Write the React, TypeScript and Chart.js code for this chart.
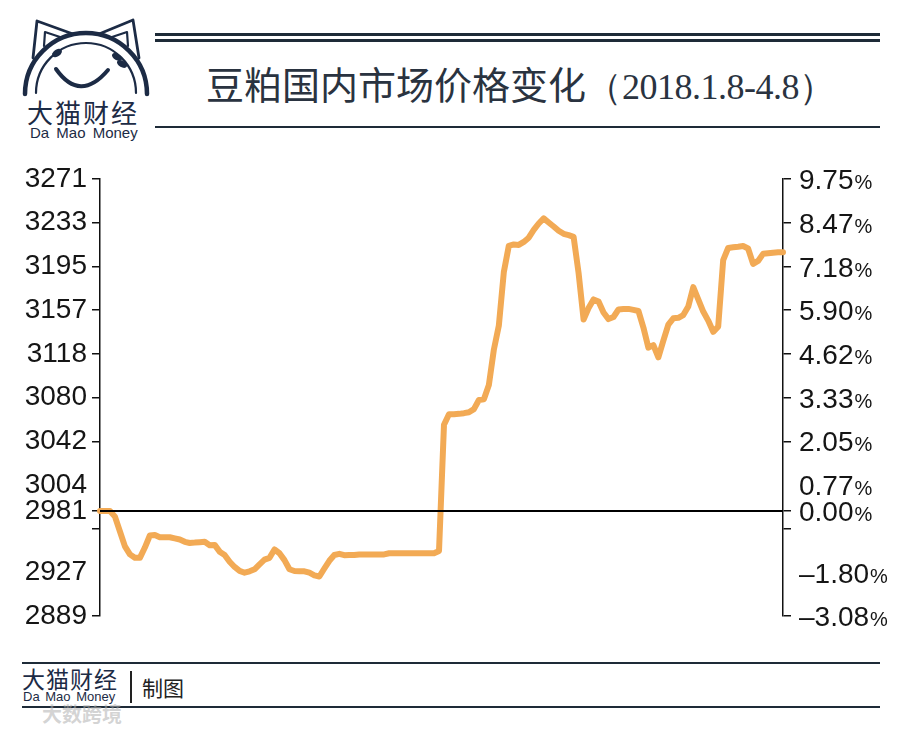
import React, { useEffect, useRef } from "react";
import { Chart, registerables } from "chart.js";

Chart.register(...registerables);

// 豆粕价格 (元/吨), 2018.1.8 - 4.8
const PRICES: number[] = [
  2981, 2981, 2981, 2976, 2963, 2950, 2943, 2940, 2940, 2949,
  2959.5, 2960, 2958, 2958, 2958, 2957, 2956, 2954, 2953, 2953.3,
  2953.7, 2954, 2951, 2951.3, 2945.4, 2942.5, 2936.6, 2932, 2928.6, 2927,
  2928.2, 2930, 2934.3, 2938.4, 2940, 2947.3, 2944, 2938, 2930, 2928.5,
  2928.2, 2928.2, 2927, 2924.7, 2923.7, 2930.7, 2937.4, 2942.5, 2943.5, 2942.3,
  2942.5, 2942.5, 2943, 2943, 2943, 2943, 2943, 2943, 2944, 2944,
  2944, 2944, 2944, 2944, 2944, 2944, 2944, 2944, 2946, 3056.3,
  3065.5, 3065.5, 3065.8, 3066.4, 3067.2, 3069.9, 3077.9, 3078.5, 3091, 3121.8,
  3142.9, 3189.6, 3212.6, 3213.8, 3213.4, 3216, 3219.7, 3226.5, 3232.1, 3236.6,
  3233, 3229.5, 3225.8, 3223.1, 3221.9, 3220.4, 3188.7, 3148.2, 3158.2, 3165.8,
  3164, 3154.4, 3148.6, 3150.4, 3157, 3157.4, 3157.5, 3156.6, 3155.7, 3141.2,
  3123.6, 3125.9, 3115.2, 3129.7, 3143.8, 3149.3, 3149.7, 3152.1, 3159.6, 3176.5,
  3165.8, 3155.2, 3147.3, 3137.5, 3142, 3200.1, 3210.8, 3211.3, 3211.8, 3212.4,
  3210.3, 3196.8, 3199.4, 3205.6, 3206.1, 3206.6, 3206.9, 3206.9,
];
const POINT_LABELS = PRICES.map((_, i) => String(i));
const BASE_PRICE = 2981;

const LEFT_MIN = 2889;
const LEFT_MAX = 3271;
const LEFT_TICKS = [3271, 3232.8, 3194.6, 3156.4, 3118.2, 3080, 3041.8, 3003.6, 2981, 2965.4, 2927.2, 2889];
const LEFT_LABELS = ["3271", "3233", "3195", "3157", "3118", "3080", "3042", "3004", "2981", "", "2927", "2889"];
const TICK_MARKS = [true, true, true, true, true, true, true, false, true, true, false, true];

const RIGHT_MIN = -3.08;
const RIGHT_MAX = 9.75;
const RIGHT_TICKS = [9.75, 8.47, 7.18, 5.9, 4.62, 3.33, 2.05, 0.77, 0, -0.52, -1.8, -3.08];
const RIGHT_LABELS = ["9.75", "8.47", "7.18", "5.90", "4.62", "3.33", "2.05", "0.77", "0.00", "", "–1.80", "–3.08"];

const NAVY = "#1c2b45";
const LINE_COLOR = "#F2AA55";

const rightLabelPlugin = {
  id: "rightLabels",
  afterDraw(chart: any) {
    const s = chart.scales.y1;
    const ctx = chart.ctx;
    ctx.save();
    ctx.textAlign = "left";
    ctx.textBaseline = "alphabetic";
    ctx.fillStyle = "#151515";
    RIGHT_TICKS.forEach((v, i) => {
      const lab = RIGHT_LABELS[i];
      if (!lab) return;
      const y = s.getPixelForValue(v) + 10;
      const x0 = s.left + 16;
      ctx.font = '28px "Liberation Sans"';
      ctx.fillText(lab, x0, y);
      const w = ctx.measureText(lab).width;
      ctx.font = '20px "Liberation Sans"';
      ctx.fillText("%", x0 + w + 1, y);
    });
    ctx.restore();
  },
};

function ChartCanvas() {
  const ref = useRef<HTMLCanvasElement | null>(null);
  useEffect(() => {
    if (!ref.current) return;
    const chart = new Chart(ref.current, {
      type: "line",
      data: {
        labels: POINT_LABELS,
        datasets: [
          {
            data: PRICES.map(() => BASE_PRICE),
            borderColor: "#000",
            borderWidth: 2,
            pointRadius: 0,
            yAxisID: "y",
            order: 0,
          },
          {
            data: PRICES,
            borderColor: LINE_COLOR,
            borderWidth: 6,
            pointRadius: 0,
            tension: 0,
            borderJoinStyle: "round",
            borderCapStyle: "round",
            yAxisID: "y",
            order: 1,
          },
        ],
      },
      options: {
        responsive: false,
        animation: false,
        devicePixelRatio: 1,
        layout: { padding: { top: 29, bottom: 17, left: 0, right: 0 } },
        plugins: { legend: { display: false }, tooltip: { enabled: false } },
        scales: {
          x: { type: "category", display: false, offset: false },
          y: {
            type: "linear",
            position: "left",
            min: LEFT_MIN,
            max: LEFT_MAX,
            afterBuildTicks: (scale: any) => {
              scale.ticks = LEFT_TICKS.map((v) => ({ value: v }));
            },
            afterFit: (scale: any) => {
              scale.width = 100;
            },
            ticks: {
              autoSkip: false,
              padding: 5,
              color: "#151515",
              font: { family: "Liberation Sans", size: 28 },
              callback: (_v: any, i: number) => LEFT_LABELS[i],
            },
            grid: {
              drawOnChartArea: false,
              drawTicks: true,
              tickLength: 8,
              lineWidth: 1.5,
              tickColor: (ctx: any) => (TICK_MARKS[ctx.index] ? "#111" : "rgba(0,0,0,0)"),
            },
            border: { display: true, color: "#111", width: 1.5 },
          },
          y1: {
            type: "linear",
            position: "right",
            min: RIGHT_MIN,
            max: RIGHT_MAX,
            afterBuildTicks: (scale: any) => {
              scale.ticks = RIGHT_TICKS.map((v) => ({ value: v }));
            },
            afterFit: (scale: any) => {
              scale.width = 117;
            },
            ticks: {
              autoSkip: false,
              callback: () => "",
            },
            grid: {
              drawOnChartArea: false,
              drawTicks: true,
              tickLength: 8,
              lineWidth: 1.5,
              tickColor: (ctx: any) => (TICK_MARKS[ctx.index] ? "#111" : "rgba(0,0,0,0)"),
            },
            border: { display: true, color: "#111", width: 1.5 },
          },
        },
      },
      plugins: [rightLabelPlugin],
    } as any);
    return () => chart.destroy();
  }, []);
  return (
    <canvas
      ref={ref}
      width={900}
      height={488}
      style={{ position: "absolute", left: 0, top: 150, width: 900, height: 488 }}
    />
  );
}

function Logo() {
  return (
    <svg width={170} height={100} style={{ position: "absolute", left: 0, top: 0 }}>
      <g stroke={NAVY} fill="none" strokeLinecap="round" strokeLinejoin="round">
        <path d="M 25 94 A 61 61 0 0 1 147 94" strokeWidth={4.5} />
        <path d="M 36 93 A 50 50 0 0 1 136 93" strokeWidth={2.2} />
        <path d="M 33 58 L 37 21 L 73 34" strokeWidth={2.8} />
        <path d="M 44 46 L 45 32 L 63 38" strokeWidth={2.2} />
        <path d="M 139 58 L 133 20 L 99 34" strokeWidth={2.8} />
        <path d="M 128 46 L 127 32 L 109 38" strokeWidth={2.2} />
        <path d="M 56 69 Q 80 103 108 70" strokeWidth={4} />
      </g>
      <g fill={NAVY}>
        <ellipse cx={57} cy={53} rx={5.5} ry={3.5} transform="rotate(-35 57 53)" />
        <ellipse cx={117} cy={57} rx={5.5} ry={3.2} transform="rotate(30 117 57)" />
        <ellipse cx={122} cy={64} rx={5.5} ry={3.2} transform="rotate(30 122 64)" />
      </g>
    </svg>
  );
}

export default function App() {
  const cjk = '"Noto Sans CJK SC", "Noto Sans", sans-serif';
  const abs = (s: React.CSSProperties): React.CSSProperties => ({ position: "absolute", ...s });
  return (
    <div
      style={{
        position: "absolute",
        left: 0,
        top: 0,
        width: 900,
        height: 732,
        background: "#fff",
        overflow: "hidden",
        fontFamily: cjk,
      }}
    >
      <Logo />
      <div style={abs({ left: 27, top: 98, fontSize: 26, lineHeight: "28px", letterSpacing: 2, color: NAVY, whiteSpace: "nowrap" })}>
        大猫财经
      </div>
      <div
        style={abs({
          left: 30,
          top: 125,
          fontSize: 15,
          lineHeight: "16px",
          color: NAVY,
          fontFamily: '"Liberation Sans", sans-serif',
          wordSpacing: 3,
          whiteSpace: "nowrap",
        })}
      >
        Da Mao Money
      </div>

      <div style={abs({ left: 155, top: 33, width: 725, height: 2.5, background: "#1e2b38" })} />
      <div style={abs({ left: 155, top: 39, width: 725, height: 2.5, background: "#1e2b38" })} />
      <div
        style={abs({
          left: 206,
          top: 60,
          fontSize: 38,
          lineHeight: "46px",
          color: "#2a3340",
          whiteSpace: "nowrap",
        })}
      >
        豆粕国内市场价格变化
        <span style={{ fontFamily: '"Liberation Serif", serif', fontSize: 36 }}>（</span>
        <span style={{ fontFamily: '"Liberation Serif", serif', fontSize: 36, letterSpacing: -0.5 }}>2018.1.8-4.8</span>
        <span style={{ fontFamily: '"Liberation Serif", serif', fontSize: 36 }}>）</span>
      </div>
      <div style={abs({ left: 155, top: 126, width: 725, height: 1.5, background: "#1e2b38" })} />

      <ChartCanvas />

      <div style={abs({ left: 22, top: 662, width: 858, height: 1.5, background: "#1e2b38" })} />
      <div style={abs({ left: 22, top: 666, fontSize: 23, lineHeight: "24px", letterSpacing: 1, color: NAVY, whiteSpace: "nowrap" })}>
        大猫财经
      </div>
      <div
        style={abs({
          left: 23,
          top: 690,
          fontSize: 13,
          lineHeight: "14px",
          color: NAVY,
          fontFamily: '"Liberation Sans", sans-serif',
          wordSpacing: 2,
          whiteSpace: "nowrap",
        })}
      >
        Da Mao Money
      </div>
      <div style={abs({ left: 130, top: 671, width: 1.5, height: 32, background: "#222" })} />
      <div style={abs({ left: 142, top: 675, fontSize: 21, lineHeight: "24px", color: "#222" })}>制图</div>
      <div style={abs({ left: 22, top: 706, width: 858, height: 1.5, background: "#1e2b38" })} />
      <div
        style={abs({
          left: 42,
          top: 702,
          fontSize: 20,
          lineHeight: "24px",
          color: "rgba(175,175,175,0.55)",
          fontWeight: 700,
          whiteSpace: "nowrap",
        })}
      >
        大数跨境
      </div>
    </div>
  );
}
